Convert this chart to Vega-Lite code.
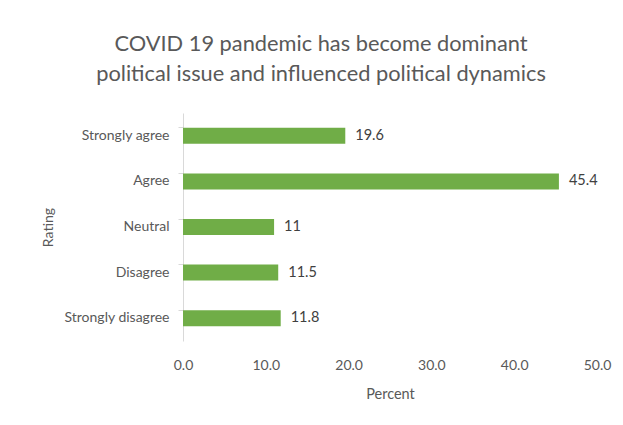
{
  "$schema": "https://vega.github.io/schema/vega-lite/v6.json",
  "autosize": {"type": "none"},
  "width": 414,
  "height": 228,
  "padding": {"left": 183, "top": 113, "right": 26, "bottom": 84},
  "background": "white",
  "config": {
    "font": "Lato",
    "view": {"stroke": null}
  },
  "title": {
    "text": ["COVID 19 pandemic has become dominant", "political issue and influenced political dynamics"],
    "anchor": "middle",
    "dx": -69,
    "offset": 27,
    "fontSize": 21.8,
    "fontWeight": "normal",
    "color": "#595959",
    "lineHeight": 30,
    "font": "Lato"
  },
  "data": {
    "values": [
      {"rating": "Strongly agree", "percent": 19.6},
      {"rating": "Agree", "percent": 45.4},
      {"rating": "Neutral", "percent": 11},
      {"rating": "Disagree", "percent": 11.5},
      {"rating": "Strongly disagree", "percent": 11.8}
    ]
  },
  "encoding": {
    "y": {
      "field": "rating",
      "type": "nominal",
      "sort": null,
      "scale": {"paddingInner": 0.65, "paddingOuter": 0.325},
      "axis": {
        "title": "Rating",
        "titleFontSize": 14,
        "titleFontWeight": "normal",
        "titleColor": "#595959",
        "titleX": -135,
        "titleY": 114,
        "titleAngle": -90,
        "titleAlign": "center",
        "titleBaseline": "middle",
        "labelFontSize": 14,
        "labelColor": "#595959",
        "labelPadding": 9,
        "domainColor": "#d9d9d9",
        "tickColor": "#d9d9d9",
        "tickSize": 5,
        "bandPosition": 0
      }
    },
    "x": {
      "field": "percent",
      "type": "quantitative",
      "scale": {"domain": [0, 50], "nice": false},
      "axis": {
        "title": "Percent",
        "values": [0, 10, 20, 30, 40, 50],
        "format": ".1f",
        "grid": false,
        "domain": false,
        "ticks": false,
        "labelFlush": false,
        "labelPadding": 17,
        "labelFontSize": 14,
        "labelColor": "#595959",
        "titleFontSize": 14.5,
        "titleFontWeight": "normal",
        "titleColor": "#595959",
        "titlePadding": 15
      }
    }
  },
  "layer": [
    {"mark": {"type": "bar", "color": "#70ad47"}},
    {
      "mark": {"type": "text", "align": "left", "baseline": "middle", "dx": 10, "fontSize": 14.5, "color": "#404040"},
      "encoding": {"text": {"field": "percent", "type": "nominal"}}
    }
  ]
}
